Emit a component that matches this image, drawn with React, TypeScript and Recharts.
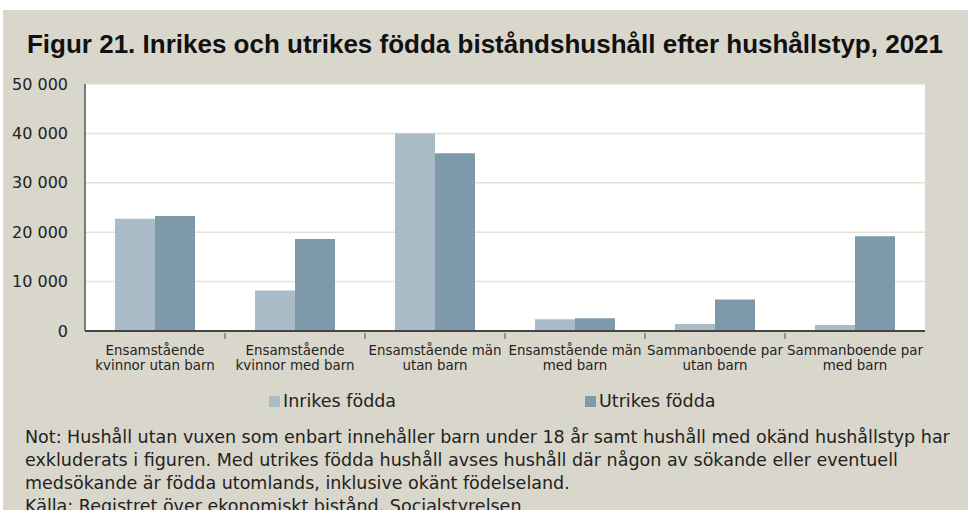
import React from 'react';
import { BarChart, Bar, XAxis, YAxis, CartesianGrid, Legend } from 'recharts';

const categories = [
  'Ensamstående kvinnor utan barn',
  'Ensamstående kvinnor med barn',
  'Ensamstående män utan barn',
  'Ensamstående män med barn',
  'Sammanboende par utan barn',
  'Sammanboende par med barn',
];
const categoryLines = [
  ['Ensamstående', 'kvinnor utan barn'],
  ['Ensamstående', 'kvinnor med barn'],
  ['Ensamstående män', 'utan barn'],
  ['Ensamstående män', 'med barn'],
  ['Sammanboende par', 'utan barn'],
  ['Sammanboende par', 'med barn'],
];
const inrikes = [22700, 8200, 40000, 2400, 1400, 1200];
const utrikes = [23300, 18600, 36000, 2600, 6400, 19200];
const yTicks = [0, 10000, 20000, 30000, 40000, 50000];

const title = 'Figur 21. Inrikes och utrikes födda biståndshushåll efter hushållstyp, 2021';
const noteLines = [
  'Not: Hushåll utan vuxen som enbart innehåller barn under 18 år samt hushåll med okänd hushållstyp har',
  'exkluderats i figuren. Med utrikes födda hushåll avses hushåll där någon av sökande eller eventuell',
  'medsökande är födda utomlands, inklusive okänt födelseland.',
  'Källa: Registret över ekonomiskt bistånd, Socialstyrelsen',
];

const data = categories.map((name, i) => ({
  name,
  inrikes: inrikes[i],
  utrikes: utrikes[i],
}));

const font = '"DejaVu Sans", sans-serif';
const bandWidth = 140;

const fmt = (v: number) => (v === 0 ? '0' : String(v).replace(/\B(?=(\d{3})+(?!\d))/g, ' '));

const CategoryTick = (props: any) => {
  const { x, y, payload, index } = props;
  const lines = categoryLines[index] || [payload.value];
  return (
    <g>
      {index < categories.length - 1 && (
        <line x1={x + bandWidth / 2} x2={x + bandWidth / 2} y1={y - 6} y2={y} stroke="#555" strokeWidth={1} />
      )}
      <text x={x} y={y + 16} textAnchor="middle" fontSize={13.4} fill="#222" fontFamily={font}>
        {lines.map((l: string, k: number) => (
          <tspan key={k} x={x} dy={k === 0 ? 0 : 15}>
            {l}
          </tspan>
        ))}
      </text>
    </g>
  );
};

const LegendContent = (props: any) => {
  const { payload } = props;
  const xs = [269, 585];
  return (
    <div style={{ position: 'relative', height: 40 }}>
      {(payload || []).map((p: any, i: number) => (
        <div
          key={i}
          style={{
            position: 'absolute',
            left: xs[i],
            top: 11,
            display: 'flex',
            alignItems: 'center',
            fontFamily: font,
            fontSize: 17.5,
            color: '#222',
          }}
        >
          <span style={{ display: 'inline-block', width: 11, height: 11, background: p.color, marginRight: 3 }} />
          {p.value}
        </div>
      ))}
    </div>
  );
};

export default function App() {
  return (
    <div style={{ position: 'fixed', top: 0, left: 0, width: 968, height: 510, background: '#fff', overflow: 'hidden' }}>
      <div style={{ position: 'absolute', top: 10, left: 3, width: 965, height: 500, background: '#d9d7cb' }} />
      <div
        style={{
          position: 'absolute',
          top: 29,
          left: 0,
          width: 970,
          textAlign: 'center',
          fontFamily: '"Liberation Sans", Arial, sans-serif',
          fontWeight: 'bold',
          fontSize: 26,
          color: '#111',
          whiteSpace: 'nowrap',
        }}
      >
        {title}
      </div>
      <div style={{ position: 'absolute', top: 0, left: 0 }}>
        <BarChart
          width={968}
          height={420}
          data={data}
          margin={{ top: 84, right: 43, bottom: 0, left: 0 }}
          barCategoryGap={30}
          barGap={0}
        >
          <CartesianGrid vertical={false} stroke="#e4e1d6" strokeWidth={1.5} fill="#fff" />
          <XAxis
            dataKey="name"
            height={49}
            interval={0}
            tickLine={false}
            axisLine={{ stroke: '#444', strokeWidth: 2 }}
            tick={<CategoryTick />}
          />
          <XAxis xAxisId="top" orientation="top" dataKey="name" height={0} tick={false} tickLine={false} axisLine={{ stroke: '#555', strokeWidth: 1.5 }} />
          <YAxis
            width={85}
            domain={[0, 50000]}
            ticks={yTicks}
            tickFormatter={fmt}
            tickSize={0}
            tickMargin={17}
            axisLine={{ stroke: '#555', strokeWidth: 1.5 }}
            tick={{ fill: '#222', fontSize: 16, fontFamily: font }}
          />
          <YAxis yAxisId="right" orientation="right" width={0} tick={false} tickLine={false} axisLine={{ stroke: '#555', strokeWidth: 1.5 }} />
          <Legend verticalAlign="bottom" height={40} content={<LegendContent />} />
          <Bar dataKey="inrikes" name="Inrikes födda" fill="#a8bbc6" isAnimationActive={false} />
          <Bar dataKey="utrikes" name="Utrikes födda" fill="#7e99aa" isAnimationActive={false} />
        </BarChart>
      </div>
      <div style={{ position: 'absolute', top: 426, left: 25, fontFamily: font, fontSize: 17.5, color: '#222', lineHeight: '23px', whiteSpace: 'nowrap' }}>
        {noteLines.map((l, i) => (
          <div key={i}>{l}</div>
        ))}
      </div>
    </div>
  );
}
